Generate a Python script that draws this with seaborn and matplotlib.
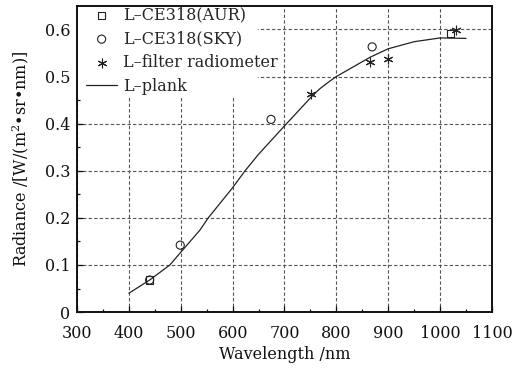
import matplotlib
matplotlib.use("Agg")
import matplotlib.pyplot as plt
import seaborn as sns
import pandas as pd
from matplotlib.patches import Rectangle
from matplotlib.ticker import MultipleLocator, FuncFormatter

# ---- data ----
aur_wl = [440, 1020]
aur_val = [0.068, 0.591]

sky_wl = [440, 499, 674, 869]
sky_val = [0.068, 0.142, 0.409, 0.563]

filt_wl = [752, 865, 900, 1030]
filt_val = [0.462, 0.531, 0.538, 0.598]

plank_wl = [400, 440, 479, 500, 537, 553, 600, 624, 650, 704, 752, 768, 787,
            800, 865, 900, 950, 1000, 1050]
plank_val = [0.040, 0.068, 0.100, 0.127, 0.174, 0.200, 0.264, 0.300, 0.335,
             0.400, 0.457, 0.474, 0.490, 0.500, 0.541, 0.559, 0.574, 0.582, 0.581]

labels = ["L\u2013CE318(AUR)", "L\u2013CE318(SKY)", "L\u2013filter radiometer", "L\u2013plank"]

sns.set_theme(style="ticks")
plt.rcParams['font.family'] = ['DejaVu Serif']
plt.rcParams['mathtext.fontset'] = 'dejavuserif'

fig = plt.figure(figsize=(5.29, 3.68), dpi=100)
ax = fig.add_axes([0.1456, 0.152, 0.7844, 0.832])

df_plank = pd.DataFrame({"wl": plank_wl, "val": plank_val})
sns.lineplot(data=df_plank, x="wl", y="val", ax=ax, color="#222222", lw=0.9,
             label=labels[3], sort=True, estimator=None, zorder=3)

sns.scatterplot(x=aur_wl, y=aur_val, ax=ax, marker="s", s=28, facecolor="none",
                edgecolor="#222222", linewidth=0.8, label=labels[0], zorder=4)
sns.scatterplot(x=sky_wl, y=sky_val, ax=ax, marker="o", s=34, facecolor="none",
                edgecolor="#222222", linewidth=0.8, label=labels[1], zorder=4)
sns.scatterplot(x=filt_wl, y=filt_val, ax=ax, marker=(6, 2, 0), s=40,
                color="#222222", edgecolor="#222222", linewidth=0.8,
                label=labels[2], zorder=4)

ax.set_xlim(300, 1100)
ax.set_ylim(0, 0.65)
ax.xaxis.set_major_locator(MultipleLocator(100))
ax.xaxis.set_minor_locator(MultipleLocator(50))
ax.yaxis.set_major_locator(MultipleLocator(0.1))
ax.yaxis.set_minor_locator(MultipleLocator(0.05))
ax.yaxis.set_major_formatter(FuncFormatter(lambda v, p: "0" if abs(v) < 1e-9 else f"{v:.1f}"))

ax.tick_params(which="both", direction="in", top=False, right=False,
               labelsize=11.5, colors="#111111")
ax.tick_params(axis="x", which="major", pad=9)
ax.tick_params(axis="y", which="major", pad=5)
ax.tick_params(which="major", length=4, width=0.9)
ax.tick_params(which="minor", length=2.5, width=0.9)

ax.grid(True, which="major", linestyle=(0, (3, 2)), color="#555555", lw=0.8)
for s in ax.spines.values():
    s.set_linewidth(1.4)
    s.set_color("#111111")
    s.set_visible(True)
    s.set_zorder(6)

# white box behind the legend that hides the grid (as in the reference)
ax.add_patch(Rectangle((0.0, 0.703), 0.436, 0.297, transform=ax.transAxes,
                       facecolor="white", edgecolor="none", zorder=1))

ax.set_xlabel("Wavelength /nm", fontsize=11.5, labelpad=3, color="#111111")
ax.set_ylabel("Radiance /[W/(m$^2$\u2022sr\u2022nm)]", fontsize=11.5, labelpad=10,
              color="#111111")

handles, labs = ax.get_legend_handles_labels()
order = [labs.index(l) for l in labels]
leg = ax.legend([handles[i] for i in order], [labs[i] for i in order],
                loc="upper left", bbox_to_anchor=(0.015, 1.008), frameon=False,
                fontsize=11.5, handlelength=1.9, handletextpad=0.4,
                labelspacing=0.42, borderpad=0.2, borderaxespad=0.0)

fig.savefig("out.png", dpi=100, facecolor="white")
